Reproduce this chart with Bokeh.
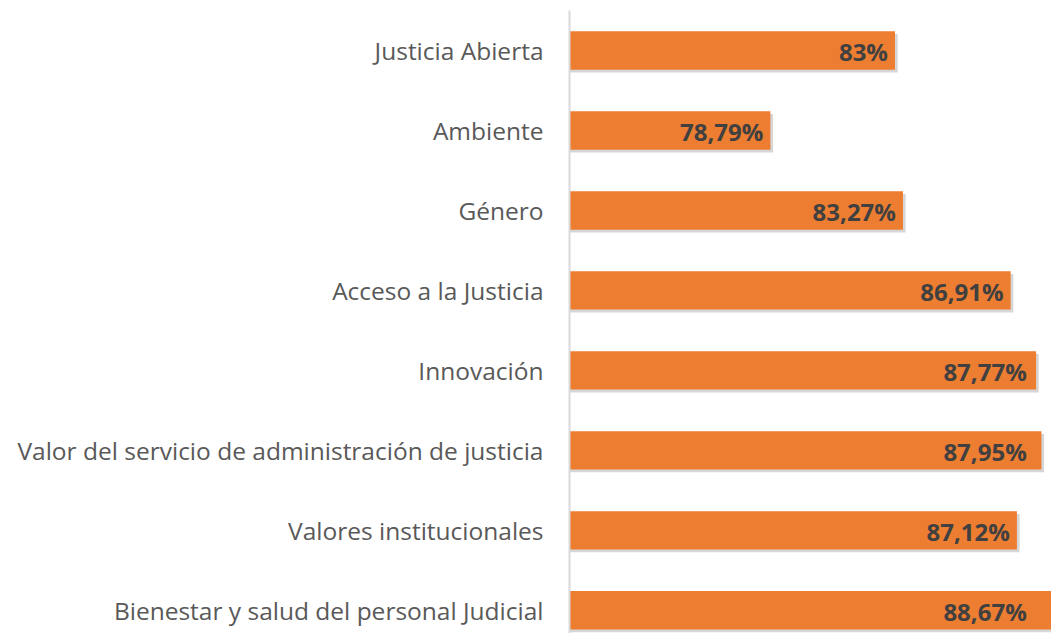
from bokeh.plotting import figure
from bokeh.models import Range1d, ColumnDataSource, FixedTicker
from bokeh.core.properties import value
from bokeh.embed import file_html
from bokeh.resources import INLINE

categories = ["Justicia Abierta", "Ambiente", "Género", "Acceso a la Justicia",
              "Innovación", "Valor del servicio de administración de justicia",
              "Valores institucionales", "Bienestar y salud del personal Judicial"]
values = [83.0, 78.79, 83.27, 86.91, 87.77, 87.95, 87.12, 88.67]
labels = ["83%", "78,79%", "83,27%", "86,91%", "87,77%", "87,95%", "87,12%", "88,67%"]

X_MIN, X_MAX = 72.0, 88.29
ypos = list(range(len(categories)))

src = ColumnDataSource(dict(
    y=ypos,
    ys=[y + 0.035 for y in ypos],
    v=values,
    vs=[v + 0.09 for v in values],
    lx=[min(v, X_MAX - 0.6) for v in values],
    lab=labels,
))

p = figure(width=1051, height=633, output_backend="svg", toolbar_location=None,
           x_range=Range1d(X_MIN, X_MAX), y_range=Range1d(len(categories) - 0.71, -0.5),
           min_border_left=569, min_border_right=0, min_border_top=10, min_border_bottom=0)
p.outline_line_color = None
p.background_fill_color = "white"
p.border_fill_color = "white"
p.xgrid.visible = False
p.ygrid.visible = False
p.xaxis.visible = False

# shadow
p.hbar(y="ys", left=X_MIN, right="vs", height=0.48, source=src,
       fill_color="#000000", fill_alpha=0.16, line_color=None)
p.hbar(y="y", left=X_MIN, right="v", height=0.48, source=src,
       fill_color="#ED7D31", line_color=None)

p.text(x="lx", y="y", text="lab", source=src, text_align="right", text_baseline="middle",
       x_offset=-7, y_offset=1, text_font=value("Open Sans"), text_font_style="bold",
       text_font_size="24px", text_color="#404040")

ax = p.yaxis[0]
ax.ticker = FixedTicker(ticks=ypos)
ax.major_label_overrides = {i: c for i, c in enumerate(categories)}
ax.axis_line_color = "#d9d9d9"
ax.axis_line_width = 2
ax.major_tick_line_color = None
ax.minor_tick_line_color = None
ax.major_label_standoff = 20
ax.major_label_text_font = "Open Sans"
ax.major_label_text_font_size = "24.5px"
ax.major_label_text_color = "#595959"

open("out.html", "w").write(file_html(p, INLINE))
